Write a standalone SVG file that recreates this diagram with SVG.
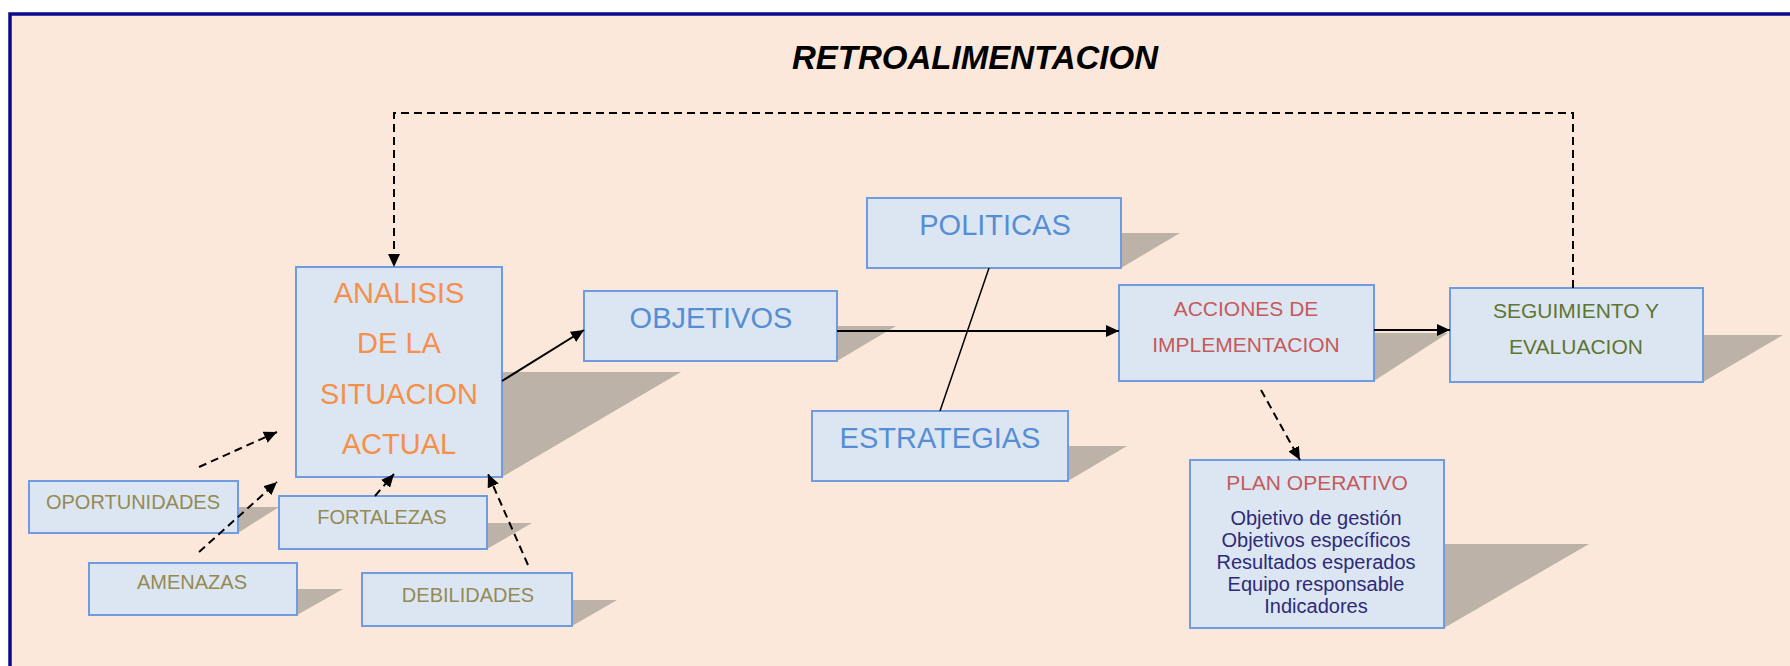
<svg xmlns="http://www.w3.org/2000/svg" width="1790" height="666" viewBox="0 0 1790 666">
<style>
.box{fill:#dce6f2;stroke:#6f9be0;stroke-width:2}
.sh{fill:#bcb2a8}
.t{font-family:"Liberation Sans",Arial,sans-serif;text-anchor:middle}
.big{font-size:29px}
.med{font-size:21px}
.sm{font-size:20px;fill:#948a54}
.org{fill:#f5904a}
.blu{fill:#558ed5}
.red{fill:#c55a5a}
.olv{fill:#5f7530}
.lst{font-size:20px;fill:#2e2a78}
.c{fill:none;stroke:#000;stroke-width:2}
.d{stroke-dasharray:8 5}
</style>
<defs>
<marker id="ah" markerUnits="userSpaceOnUse" markerWidth="14" markerHeight="12" refX="13" refY="6" orient="auto">
<path d="M0,0 L13,6 L0,12 z" fill="#000"/>
</marker>
</defs>
<rect x="0" y="0" width="1790" height="666" fill="#ffffff"/>
<rect x="10" y="14" width="1800" height="700" fill="#fce8da" stroke="#0a0a8c" stroke-width="3.5"/>
<text class="t" x="975" y="69" font-size="33" font-weight="bold" font-style="italic" fill="#000">RETROALIMENTACION</text>

<g id="oportunidades">
<polygon class="sh" points="70,507 279,507 238,533 29,533"/>
<rect class="box" x="29" y="481" width="209" height="52"/>
<text class="t sm" x="133" y="509">OPORTUNIDADES</text>
</g>
<g id="amenazas">
<polygon class="sh" points="135,589 343,589 297,615 89,615"/>
<rect class="box" x="89" y="563" width="208" height="52"/>
<text class="t sm" x="192" y="589">AMENAZAS</text>
</g>
<g id="fortalezas">
<polygon class="sh" points="324,523 532,523 487,549 279,549"/>
<rect class="box" x="279" y="496" width="208" height="53"/>
<text class="t sm" x="382" y="524">FORTALEZAS</text>
</g>
<g id="debilidades">
<polygon class="sh" points="407,600 617,600 572,626 362,626"/>
<rect class="box" x="362" y="573" width="210" height="53"/>
<text class="t sm" x="468" y="602">DEBILIDADES</text>
</g>
<g id="analisis">
<polygon class="sh" points="475,372 681,372 502,477 296,477"/>
<rect class="box" x="296" y="267" width="206" height="210"/>
<text class="t big org" x="399" y="303">ANALISIS</text>
<text class="t big org" x="399" y="353">DE LA</text>
<text class="t big org" x="399" y="404">SITUACION</text>
<text class="t big org" x="399" y="454">ACTUAL</text>
</g>
<g id="objetivos">
<polygon class="sh" points="643,326 896,326 837,361 584,361"/>
<rect class="box" x="584" y="291" width="253" height="70"/>
<text class="t big blu" x="711" y="328">OBJETIVOS</text>
</g>
<g id="politicas">
<polygon class="sh" points="926,233 1180,233 1121,268 867,268"/>
<rect class="box" x="867" y="198" width="254" height="70"/>
<text class="t big blu" x="995" y="235">POLITICAS</text>
</g>
<g id="estrategias">
<polygon class="sh" points="871,446 1127,446 1068,481 812,481"/>
<rect class="box" x="812" y="411" width="256" height="70"/>
<text class="t big blu" x="940" y="448">ESTRATEGIAS</text>
</g>
<g id="acciones">
<polygon class="sh" points="1193,333 1448,333 1374,381 1119,381"/>
<rect class="box" x="1119" y="285" width="255" height="96"/>
<text class="t med red" x="1246" y="316">ACCIONES  DE</text>
<text class="t med red" x="1246" y="352">IMPLEMENTACION</text>
</g>
<g id="seguimiento">
<polygon class="sh" points="1530,335 1783,335 1703,382 1450,382"/>
<rect class="box" x="1450" y="288" width="253" height="94"/>
<text class="t med olv" x="1576" y="318">SEGUIMIENTO Y</text>
<text class="t med olv" x="1576" y="354">EVALUACION</text>
</g>
<g id="plan-operativo">
<polygon class="sh" points="1335,544 1589,544 1444,628 1190,628"/>
<rect class="box" x="1190" y="460" width="254" height="168"/>
<text class="t med red" x="1317" y="490">PLAN OPERATIVO</text>
<text class="t lst" x="1316" y="525">Objetivo de gestión</text>
<text class="t lst" x="1316" y="547">Objetivos específicos</text>
<text class="t lst" x="1316" y="569">Resultados esperados</text>
<text class="t lst" x="1316" y="591">Equipo responsable</text>
<text class="t lst" x="1316" y="613">Indicadores</text>
</g>

<g id="connectors">
<path class="c d" d="M1573,288 V113 H394 V267" marker-end="url(#ah)"/>
<path class="c" d="M502,381 L584,330" marker-end="url(#ah)"/>
<path class="c" d="M837,331 H1119" marker-end="url(#ah)"/>
<path class="c" d="M1374,330 H1450" marker-end="url(#ah)"/>
<path class="c" style="stroke-width:1.5" d="M989,268 L940,411"/>
<path class="c d" d="M1261,390 L1300,460" marker-end="url(#ah)"/>
<path class="c d" d="M199,467 L277,432" marker-end="url(#ah)"/>
<path class="c d" d="M199,552 L277,482" marker-end="url(#ah)"/>
<path class="c d" d="M375,496 L394,474" marker-end="url(#ah)"/>
<path class="c d" d="M528,565 L488,474" marker-end="url(#ah)"/>
</g>
</svg>
